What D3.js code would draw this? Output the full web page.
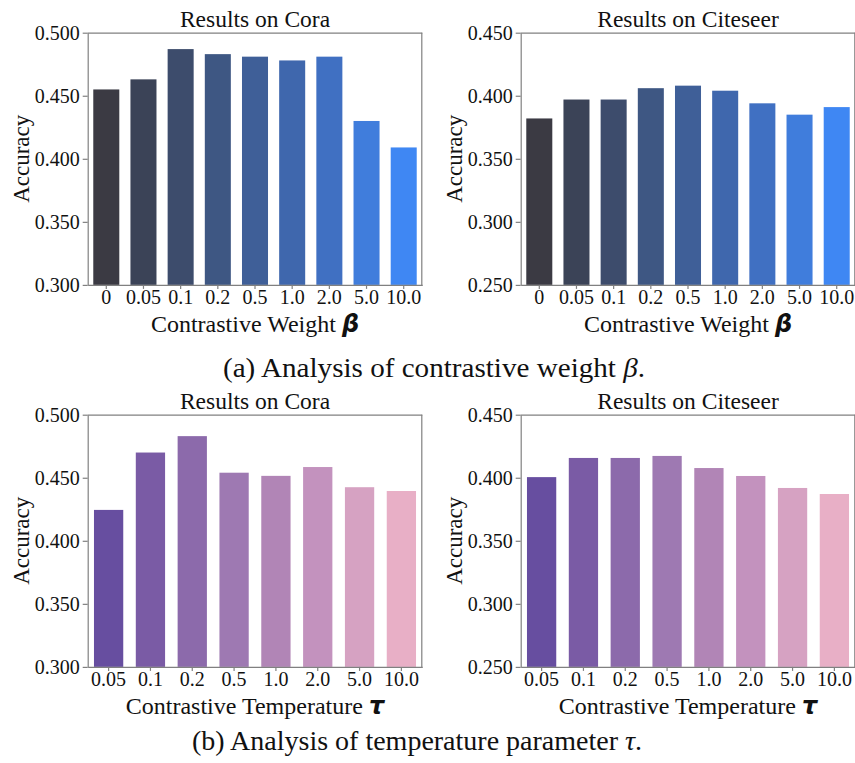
<!DOCTYPE html>
<html>
<head>
<meta charset="utf-8">
<script src="https://cdn.jsdelivr.net/npm/d3@7"></script>
<style>
  body { margin: 0; background: #fff; }
  svg { display: block; }
</style>
</head>
<body>
<div id="container"></div>
<script>
/* DATA */
const weightLabels = ["0", "0.05", "0.1", "0.2", "0.5", "1.0", "2.0", "5.0", "10.0"];
const coraWeight = [0.455, 0.463, 0.487, 0.483, 0.481, 0.478, 0.481, 0.430, 0.409];
const citeseerWeight = [0.382, 0.397, 0.397, 0.406, 0.408, 0.404, 0.394, 0.385, 0.391];

const tempLabels = ["0.05", "0.1", "0.2", "0.5", "1.0", "2.0", "5.0", "10.0"];
const coraTemp = [0.4245, 0.470, 0.483, 0.454, 0.4515, 0.4585, 0.4425, 0.4395];
const citeseerTemp = [0.4005, 0.4157, 0.4157, 0.4173, 0.4077, 0.4014, 0.3919, 0.3871];

const coraTicks = [0.300, 0.350, 0.400, 0.450, 0.500];
const citeseerTicks = [0.250, 0.300, 0.350, 0.400, 0.450];

const blueShades = ["#3b3a43", "#3b4357", "#3d4c6c", "#3e5783", "#3f5f98", "#3f67ad", "#4070c2", "#407ddc", "#3f87f3"];
const purpleShades = ["#674ea0", "#7a5ba5", "#8c6aab", "#9e79b2", "#b185b6", "#c392be", "#d6a2c2", "#e8afc6"];

/* CONSTANTS */
const width = 855, height = 763;
const serif = "'Liberation Serif', 'Times New Roman', serif";
const spineColor = "#808080";

const svg = d3.select("#container")
  .append("svg")
  .attr("width", width)
  .attr("height", height);

// one bar panel
function drawPanel(opts) {
  const { left, top, w, h, labels, values, ticks, colors, title, xTitle, sym } = opts;

  const xScale = d3.scaleBand()
    .domain(labels)
    .range([left, left + w])
    .paddingInner(0.3)
    .paddingOuter(0.15);

  const yScale = d3.scaleLinear()
    .domain([ticks[0], ticks[ticks.length - 1]])
    .range([top + h, top]);

  const g = svg.append("g");

  g.selectAll(".bar")
    .data(values)
    .join("rect")
    .attr("class", "bar")
    .attr("x", (d, i) => xScale(labels[i]))
    .attr("y", d => yScale(d))
    .attr("width", xScale.bandwidth())
    .attr("height", d => yScale(ticks[0]) - yScale(d))
    .attr("fill", (d, i) => colors[i]);

  // top + right spines
  g.append("line")
    .attr("x1", left).attr("x2", left + w)
    .attr("y1", top + 0.5).attr("y2", top + 0.5)
    .attr("stroke", spineColor).attr("stroke-width", 1.2);
  g.append("line")
    .attr("x1", left + w - 0.5).attr("x2", left + w - 0.5)
    .attr("y1", top).attr("y2", top + h)
    .attr("stroke", spineColor).attr("stroke-width", 1.2);

  const yAxis = d3.axisLeft(yScale)
    .tickValues(ticks)
    .tickFormat(d3.format(".3f"))
    .tickSize(5)
    .tickSizeOuter(0)
    .tickPadding(3);
  const xAxis = d3.axisBottom(xScale)
    .tickSize(4)
    .tickSizeOuter(0)
    .tickPadding(1);

  const ya = g.append("g")
    .attr("transform", `translate(${left},0)`)
    .call(yAxis);
  const xa = g.append("g")
    .attr("transform", `translate(0,${top + h})`)
    .call(xAxis);

  [ya, xa].forEach(a => {
    a.select(".domain").attr("stroke", spineColor).attr("stroke-width", 1.2);
    a.selectAll(".tick line").attr("stroke", spineColor).attr("stroke-width", 1.2);
    a.selectAll(".tick text")
      .attr("fill", "#111")
      .style("font-family", serif)
      .style("font-size", "20px");
  });

  // title
  g.append("text")
    .attr("x", left + w / 2)
    .attr("y", top - 6)
    .attr("text-anchor", "middle")
    .style("font-family", serif)
    .style("font-size", "23.5px")
    .attr("fill", "#111")
    .text(title);

  // y label
  g.append("text")
    .attr("transform", `translate(${left - 58.5},${top + h / 2}) rotate(-90)`)
    .attr("text-anchor", "middle")
    .style("font-family", serif)
    .style("font-size", "23px")
    .attr("fill", "#111")
    .text("Accuracy");

  // x label
  const xl = g.append("text")
    .attr("x", left + w / 2)
    .attr("y", top + h + 47)
    .attr("text-anchor", "middle")
    .style("font-family", serif)
    .style("font-size", "24px")
    .attr("fill", "#111");
  xl.append("tspan").text(xTitle + " ");
  xl.append("tspan")
    .style("font-family", "'DejaVu Sans', sans-serif")
    .style("font-weight", "bold")
    .style("font-style", "italic")
    .text(sym);
}

function caption(x, y, len, lead, sym) {
  const t = svg.append("text")
    .attr("x", x)
    .attr("y", y)
    .attr("textLength", len)
    .attr("lengthAdjust", "spacingAndGlyphs")
    .style("font-family", serif)
    .style("font-size", "27px")
    .attr("fill", "#111");
  t.append("tspan").text(lead + " ");
  t.append("tspan").style("font-style", "italic").text(sym);
  t.append("tspan").text(".");
}

const pw = 334.6, ph = 252.2;

drawPanel({ left: 87.7, top: 32.7, w: pw, h: ph, labels: weightLabels, values: coraWeight,
  ticks: coraTicks, colors: blueShades, title: "Results on Cora", xTitle: "Contrastive Weight", sym: "β" });
drawPanel({ left: 520.7, top: 32.7, w: pw, h: ph, labels: weightLabels, values: citeseerWeight,
  ticks: citeseerTicks, colors: blueShades, title: "Results on Citeseer", xTitle: "Contrastive Weight", sym: "β" });
drawPanel({ left: 87.7, top: 414.7, w: pw, h: ph, labels: tempLabels, values: coraTemp,
  ticks: coraTicks, colors: purpleShades, title: "Results on Cora", xTitle: "Contrastive Temperature", sym: "τ" });
drawPanel({ left: 520.7, top: 414.7, w: pw, h: ph, labels: tempLabels, values: citeseerTemp,
  ticks: citeseerTicks, colors: purpleShades, title: "Results on Citeseer", xTitle: "Contrastive Temperature", sym: "τ" });

caption(223, 377, 422, "(a) Analysis of contrastive weight", "β");
caption(192, 750, 450, "(b) Analysis of temperature parameter", "τ");
</script>
</body>
</html>
